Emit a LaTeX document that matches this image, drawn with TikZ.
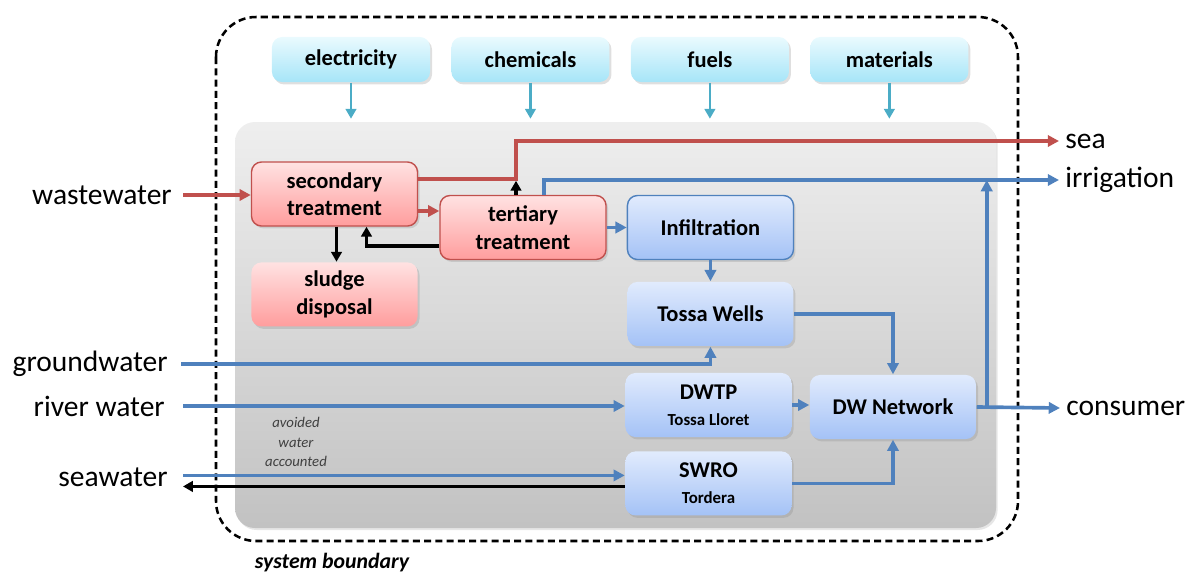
\documentclass[tikz,border=0pt]{standalone}
\usepackage{fontspec}
\setmainfont{Carlito}
\usepackage{xcolor}
\usetikzlibrary{arrows.meta,positioning,calc,shadows}

\definecolor{wwred}{HTML}{C0504D}
\definecolor{dwblue}{HTML}{4F81BD}
\definecolor{incyan}{HTML}{4BACC6}
\definecolor{redtop}{HTML}{FFE2E2}
\definecolor{redbot}{HTML}{FF9D9D}
\definecolor{bluetop}{HTML}{E1EBFD}
\definecolor{bluebot}{HTML}{A4C2F6}
\definecolor{cyantop}{HTML}{EAFAFE}
\definecolor{cyanbot}{HTML}{A6E5F8}

\begin{document}
\begin{tikzpicture}[
    x=0.025cm, y=-0.025cm,
    node distance=0.5cm,
    anybox/.style={rectangle, rounded corners=0.25cm, text centered, align=center,
        font=\fontsize{16}{19.5}\selectfont\bfseries, line width=1pt,
        drop shadow={opacity=0.25, shadow xshift=0.5mm, shadow yshift=-0.6mm}},
    redbox/.style={anybox, top color=redtop, bottom color=redbot, draw=wwred,
        minimum width=4.15cm, minimum height=1.6cm},
    bluebox/.style={anybox, top color=bluetop, bottom color=bluebot, draw=none,
        minimum width=4.15cm, minimum height=1.6cm},
    inputbox/.style={anybox, top color=cyantop, bottom color=cyanbot, draw=none,
        minimum width=3.95cm, minimum height=1.125cm},
    flowlabel/.style={font=\fontsize{21}{24}\selectfont, inner sep=0pt},
    redarrow/.style={-{Triangle[length=8pt,width=8pt]}, line width=2.6pt, draw=wwred},
    bluearrow/.style={-{Triangle[length=8pt,width=8pt]}, line width=2.6pt, draw=dwblue},
    blackarrow/.style={-{Triangle[length=7pt,width=7.5pt]}, line width=2.4pt, draw=black},
    inarrow/.style={-{Triangle[length=7pt,width=7.5pt]}, line width=1.8pt, draw=incyan}
]
    \useasboundingbox (0,0) rectangle (1186,574);

    % System boundary and process area
    \draw[line width=1.8pt, dash pattern=on 5pt off 3pt, rounded corners=1cm] (216,17) rectangle (1018,541);
    \shade[top color=gray!13, bottom color=gray!48, rounded corners=0.5cm,
        drop shadow={opacity=0.2, shadow xshift=0.4mm, shadow yshift=-0.5mm}] (235,122) rectangle (996,528);
    \node[font=\fontsize{15.5}{18}\selectfont\bfseries\itshape] (sysb) at (332,563) {system boundary};

    % Inputs
    \node[inputbox] (elec) at (351,59.5) {electricity};
    \node[inputbox, right=of elec] (chem) {chemicals};
    \node[inputbox, right=of chem] (fuel) {fuels};
    \node[inputbox, right=of fuel] (mat) {materials};
    \foreach \n in {elec,chem,fuel,mat}
        \draw[inarrow] (\n.south) -- ++(0,36);

    % Wastewater line
    \node[redbox] (sec) at (334.5,194) {secondary\\treatment};
    \node[redbox, draw=none, below=0.875cm of sec] (sludge) {sludge\\disposal};
    \node[redbox] (ter) at (523,227.5) {tertiary\\treatment};

    % Drinking water line
    \node[bluebox, draw=dwblue] (infil) [right=of ter] {Infiltration};
    \node[bluebox, below=0.525cm of infil] (wells) {Tossa Wells};
    \node[bluebox] (dwtp) at (708.5,405) {DWTP\\[-1pt]{\fontsize{12}{14}\selectfont Tossa Lloret}};
    \node[bluebox, below=0.325cm of dwtp] (swro) {SWRO\\[-1pt]{\fontsize{12}{14}\selectfont Tordera}};
    \node[bluebox] (dwnet) at (893,407) {DW Network};

    % Flow labels
    \node[flowlabel, anchor=east] (ww) at (172,195) {wastewater};
    \node[flowlabel, anchor=east] (gw) at (168,364) {groundwater};
    \node[flowlabel, anchor=east] (rw) at (165,406) {river water};
    \node[flowlabel, anchor=east] (sw) at (168,477) {seawater};
    \node[flowlabel, anchor=west] (sea) at (1065,141) {sea};
    \node[flowlabel, anchor=west] (irr) at (1065,180) {irrigation};
    \node[flowlabel, anchor=west] (cons) at (1066,408) {consumer};
    \node[font=\fontsize{10.5}{14}\selectfont\itshape, text=black!75, align=center] (avoid) at (296,442) {avoided\\water\\accounted};

    % Arrows
    \draw[redarrow] ([xshift=0.275cm]ww.east) -- (sec.west |- ww.east);
    \draw[redarrow] ([yshift=0.375cm]sec.east) -| (516,141) -- ([xshift=-0.15cm]sea.west);
    \draw[redarrow] ([yshift=-0.425cm]sec.east) coordinate (s2t) -- (s2t -| ter.west);
    \draw[blackarrow] ([xshift=-0.175cm]ter.north) -- ++(0,-14);
    \draw[blackarrow] ([yshift=-0.46cm]ter.west) -| ([xshift=0.8cm]sec.south);
    \draw[blackarrow] ([xshift=0.05cm]sec.south) -- ([xshift=0.05cm]sec.south |- sludge.north);
    \draw[bluearrow] ([xshift=0.525cm]ter.north) |- ([xshift=-0.15cm]irr.west);
    \draw[bluearrow] (ter.east) -- (infil.west);
    \draw[bluearrow] (infil.south) -- (wells.north);
    \draw[bluearrow] (wells.east) -| (dwnet.north);
    \draw[bluearrow] ([xshift=0.325cm]gw.east) -| (wells.south);
    \draw[bluearrow] ([xshift=0.45cm]rw.east) -- (rw.east -| dwtp.west);
    \coordinate (swl) at ([xshift=0.375cm]sw.east);
    \coordinate (swin) at ([yshift=0.2cm]swro.west);
    \draw[bluearrow] (swl |- swin) -- (swin);
    \draw[blackarrow] ([yshift=-0.075cm]swro.west) coordinate (swout) -- (swout -| swl);
    \draw[bluearrow] (dwtp.east) -- (dwtp.east -| dwnet.west);
    \draw[bluearrow] (swro.east) -| (dwnet.south);
    \draw[bluearrow] (dwnet.east) -- ([xshift=-0.15cm]cons.west);
    \draw[bluearrow] ([xshift=0.25cm]dwnet.east) coordinate (br) -- (br |- irr.west);
\end{tikzpicture}
\end{document}
